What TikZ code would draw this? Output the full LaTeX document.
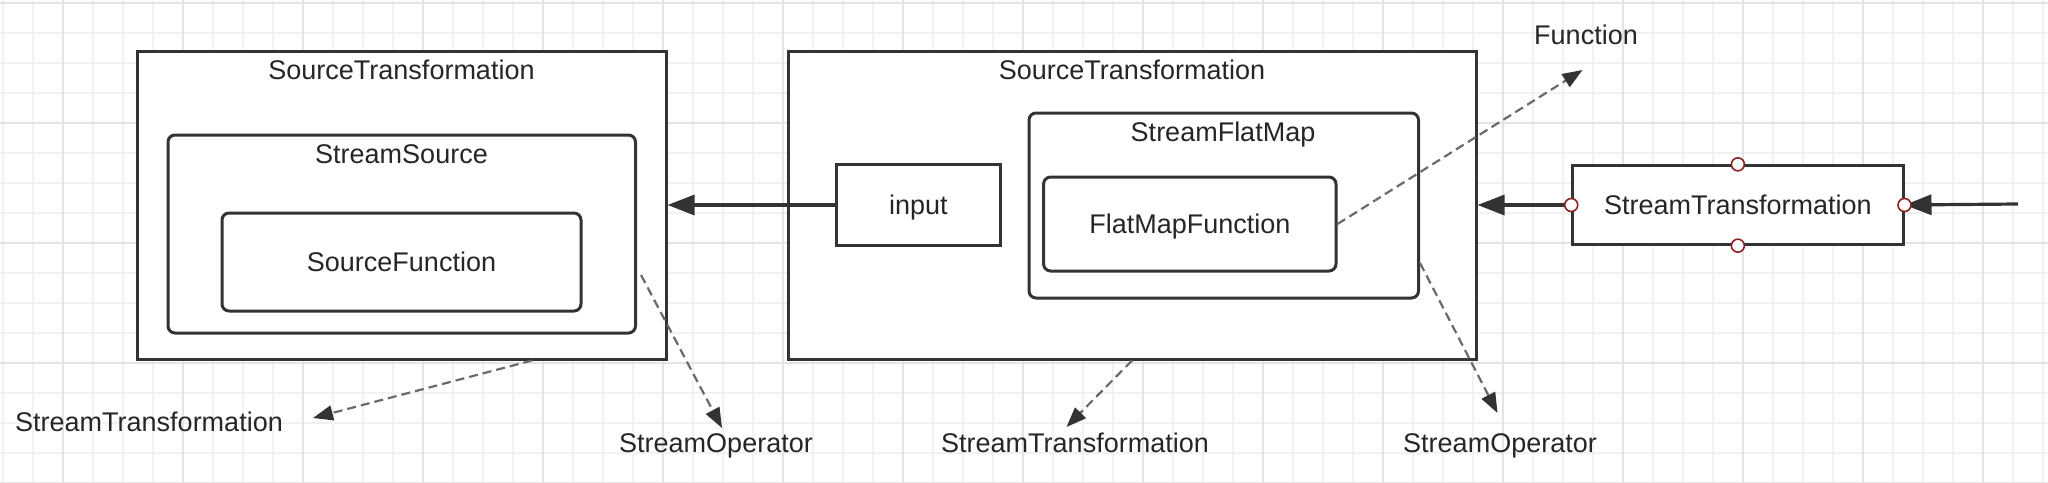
\documentclass[tikz,border=0pt]{standalone}
\usepackage{fontspec}
\setmainfont{Liberation Sans}
\usetikzlibrary{arrows.meta,calc}
\definecolor{ink}{HTML}{333333}
\definecolor{txt}{HTML}{262626}
\definecolor{dashc}{HTML}{6A6A6A}
\definecolor{gridminor}{HTML}{F1F1F1}
\definecolor{gridmajor}{HTML}{E4E4E4}
\definecolor{port}{HTML}{8B2222}
\begin{document}
\begin{tikzpicture}[x=1pt,y=-1pt,
  every node/.style={font=\fontsize{27}{32}\selectfont, text=txt, text height=19.3pt, text depth=0pt},
  boxsq/.style={draw=ink, line width=3pt, fill=white, inner sep=0pt},
  boxrd/.style={boxsq, rounded corners=7pt},
  lbl/.style={inner sep=0pt},
  solidarr/.style={draw=ink, line width=3.2pt, -{Triangle[length=27pt,width=20pt]}},
  dasharr/.style={draw=dashc, line width=2.2pt, dash pattern=on 9pt off 5pt, -{Triangle[length=20pt,width=15pt,color=ink]}},
  portc/.style={circle, draw=port, line width=1.6pt, fill=white, minimum size=13pt, inner sep=0pt, text height=0pt}
]
\useasboundingbox (0,0) rectangle (2048,482);
\fill[white] (0,0) rectangle (2048,482);
% grid
\foreach \i in {0,...,68} {\draw[gridminor, line width=1.6pt] (3+30*\i,0) -- (3+30*\i,482);}
\foreach \j in {0,...,16} {\draw[gridminor, line width=1.6pt] (0,2.7+30*\j) -- (2048,2.7+30*\j);}
\foreach \i in {0,...,16} {\draw[gridmajor, line width=2pt] (63+120*\i,0) -- (63+120*\i,482);}
\foreach \j in {0,...,4} {\draw[gridmajor, line width=2pt] (0,2.7+120*\j) -- (2048,2.7+120*\j);}

% left group
\node[boxsq, minimum width=529pt, minimum height=308pt] (lbox) at (401.5,205) {};
\node[lbl] (lboxt) at (401.5,70) {SourceTransformation};
\node[boxrd, minimum width=467.5pt, minimum height=198pt] (ssrc) at (401.75,234) {};
\node[lbl] (ssrct) at (401.5,154) {StreamSource};
\node[boxrd, minimum width=359pt, minimum height=98pt] (sfun) at (401.5,262) {SourceFunction};

% right group
\node[boxsq, minimum width=688pt, minimum height=308pt] (rbox) at (1132,205) {};
\node[lbl] (rboxt) at (1132,70) {SourceTransformation};
\node[boxsq, minimum width=164.6pt, minimum height=81pt] (inp) at (918.3,205) {input};
\node[boxrd, minimum width=389.5pt, minimum height=185pt] (sfm) at (1223.75,205.5) {};
\node[lbl] (sfmt) at (1223,132) {StreamFlatMap};
\node[boxrd, minimum width=292.4pt, minimum height=94pt] (fmf) at (1189.8,224) {FlatMapFunction};

% stream transformation
\node[boxsq, minimum width=330.3pt, minimum height=78.3pt] (st) at (1737.85,205) {StreamTransformation};
\coordinate (srcend) at (2018,204);

% labels
\node[lbl] (l1) at (149,422) {StreamTransformation};
\node[lbl] (l2) at (716,443) {StreamOperator};
\node[lbl] (l3) at (1075,443) {StreamTransformation};
\node[lbl] (l4) at (1500,443) {StreamOperator};
\node[lbl] (l5) at (1586,35) {Function};

% solid arrows
\draw[solidarr] (inp.west) -- (inp.west -| lbox.east);
\draw[solidarr] (st.west) -- (st.west -| rbox.east);
\draw[solidarr] (srcend) -- (st.east);

% dashed arrows
\draw[dasharr] ([shift={(130.5,0)}]lbox.south) -- ([shift={(30,-4)}]l1.east);
\draw[dasharr] ([shift={(4,41)}]ssrc.east) -- ([shift={(6,-15)}]l2.center);
\draw[dasharr] (rbox.south) -- ([shift={(-8.5,-16)}]l3.center);
\draw[dasharr] ([shift={(0,57.5)}]sfm.east) -- ([shift={(-2.5,-30)}]l4.center);
\draw[dasharr] (fmf.east) -- ([shift={(-3.5,35)}]l5.center);

% ports
\node[portc] (pn) at (st.north) {};
\node[portc] (ps) at (st.south) {};
\node[portc] (pw) at (st.west) {};
\node[portc] (pe) at (st.east) {};
\end{tikzpicture}
\end{document}
